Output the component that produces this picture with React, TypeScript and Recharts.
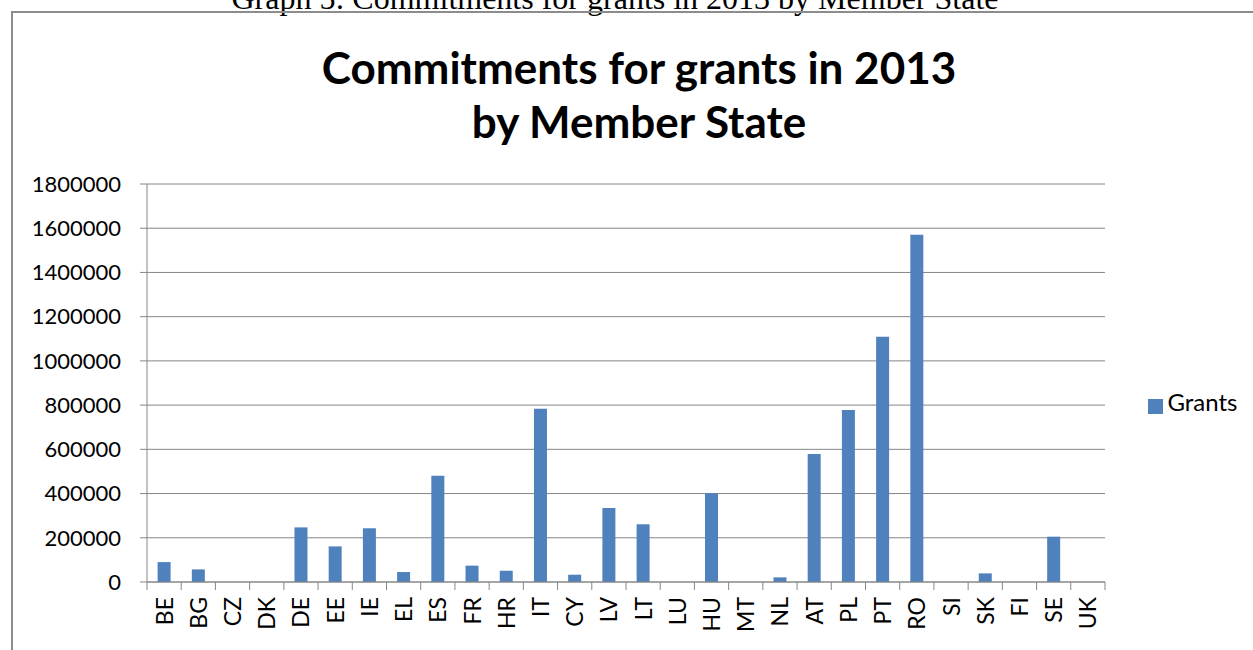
import React from "react";
import {
  BarChart,
  Bar,
  XAxis,
  YAxis,
  CartesianGrid,
  Legend,
} from "recharts";

const memberStates = [
  "BE", "BG", "CZ", "DK", "DE", "EE", "IE", "EL", "ES", "FR", "HR", "IT", "CY", "LV",
  "LT", "LU", "HU", "MT", "NL", "AT", "PL", "PT", "RO", "SI", "SK", "FI", "SE", "UK",
];

const grants = [
  90000, 57000, 0, 0, 247000, 161000, 243000, 45000, 480000, 74000, 51000, 783000, 33000, 335000,
  261000, 0, 401000, 0, 21000, 579000, 778000, 1109000, 1571000, 0, 39000, 0, 205000, 0,
];

const yTicks = [0, 200000, 400000, 600000, 800000, 1000000, 1200000, 1400000, 1600000, 1800000];

const data = memberStates.map((ms, i) => ({ ms, grants: grants[i] }));

const AXIS = "#868686";
const FONT = "Lato, 'DejaVu Sans', sans-serif";

// category label rotated, plus a tick mark on each category boundary (Excel style)
function StateTick(props: any) {
  const { x, y, payload, index } = props;
  const half = payload && payload.offset ? payload.offset : 0;
  const axisY = y - 15;
  return (
    <g>
      {half > 0 && (
        <line x1={x - half} x2={x - half} y1={axisY} y2={axisY + 8} stroke={AXIS} />
      )}
      {half > 0 && index === memberStates.length - 1 && (
        <line x1={x + half} x2={x + half} y1={axisY} y2={axisY + 8} stroke={AXIS} />
      )}
      <g transform={`translate(${x},${y})`}>
        <text
          transform="rotate(-90)"
          x={0}
          y={0}
          dy="0.37em"
          textAnchor="end"
          fill="#000"
          fontSize={23}
          fontFamily={FONT}
        >
          {payload.value}
        </text>
      </g>
    </g>
  );
}

export default function App() {
  return (
    <div
      style={{
        position: "absolute",
        left: 0,
        top: 0,
        width: 1253,
        height: 650,
        background: "#fff",
        overflow: "hidden",
      }}
    >
      <svg
        width={1253}
        height={650}
        style={{ position: "absolute", left: 0, top: 0 }}
      >
        <text
          x={615}
          y={9}
          textAnchor="middle"
          fontFamily="'Liberation Serif', 'Times New Roman', serif"
          fontSize={32}
          fill="#000"
        >
          Graph 5: Commitments for grants in 2013 by Member State
        </text>
        <rect x={12} y={12} width={1300} height={700} fill="none" stroke="#8c8c8c" strokeWidth={2} />
        <text x={639} y={84} textAnchor="middle" fontFamily={FONT} fontWeight="bold" fontSize={44} fill="#000">
          Commitments for grants in 2013
        </text>
        <text x={639} y={138} textAnchor="middle" fontFamily={FONT} fontWeight="bold" fontSize={44} fill="#000">
          by Member State
        </text>
      </svg>
      <div style={{ position: "absolute", left: 0, top: 0 }}>
        <BarChart
          width={1253}
          height={650}
          data={data}
          margin={{ top: 184, right: 148, bottom: 0, left: 0 }}
          barCategoryGap="31%"
        >
          <CartesianGrid vertical={false} stroke={AXIS} strokeDasharray="" />
          <XAxis
            dataKey="ms"
            interval={0}
            height={68}
            axisLine={{ stroke: AXIS }}
            tickLine={false}
            tickSize={0}
            tickMargin={15}
            tick={<StateTick />}
          />
          <YAxis
            width={147}
            domain={[0, 1800000]}
            ticks={yTicks}
            interval={0}
            axisLine={{ stroke: AXIS }}
            tickLine={{ stroke: AXIS }}
            tickSize={7}
            tickMargin={19}
            tick={{ fill: "#000", fontSize: 22, fontFamily: FONT }}
          />
          <Legend
            layout="horizontal"
            verticalAlign="middle"
            align="center"
            iconType="square"
            iconSize={15}
            wrapperStyle={{ left: 1138, top: 387, width: 120, fontFamily: FONT }}
            formatter={(value) => (
              <span style={{ color: "#000", fontSize: 24 }}>{value}</span>
            )}
          />
          <Bar dataKey="grants" name="Grants" fill="#4F81BD" isAnimationActive={false} />
        </BarChart>
      </div>
    </div>
  );
}
